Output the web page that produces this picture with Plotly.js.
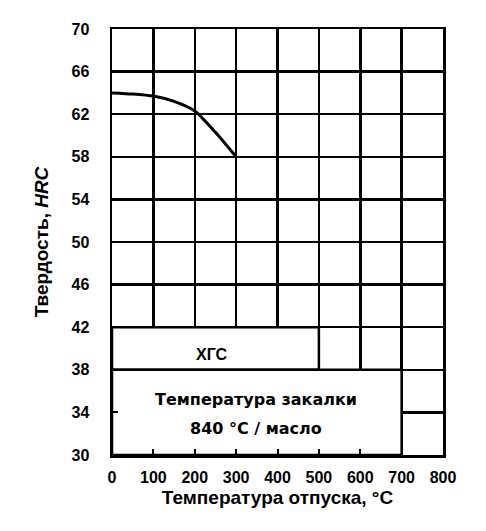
<!DOCTYPE html>
<html>
<head>
<meta charset="utf-8">
<script src="https://cdn.plot.ly/plotly-3.0.1.min.js"></script>
<style>html,body{margin:0;padding:0;background:#fff;}#chart{width:486px;height:531px;}</style>
</head>
<body>
<div id="chart"></div>
<script>
// Data
const temper = [0, 50, 100, 150, 200, 250, 300];
const hardness = [64.0, 63.9, 63.7, 63.2, 62.3, 60.3, 58.0];
const xTicks = [0, 100, 200, 300, 400, 500, 600, 700, 800];
const yTicks = [30, 34, 38, 42, 46, 50, 54, 58, 62, 66, 70];
const steelLabel = "ХГС";
const quenchLines = ["Температура закалки", "840 °С / масло"];
const xTitle = "Температура отпуска, °С";
const yTitle = "Твердость, <i>HRC</i>";

const F = "Liberation Sans, Arial, sans-serif";

const trace = {
  x: temper, y: hardness, type: "scatter", mode: "lines",
  line: {color: "#000", width: 3, shape: "spline", smoothing: 0.6},
  hoverinfo: "skip", showlegend: false
};

const axisCommon = {
  showgrid: true, gridcolor: "#000", gridwidth: 2.5,
  showline: true, linecolor: "#000", linewidth: 2.5, mirror: true,
  ticks: "inside", ticklen: 6, tickwidth: 2, tickcolor: "#000",
  zeroline: false,
  tickfont: {family: F, size: 16, color: "#000", weight: "bold"}
};

const layout = {
  width: 486, height: 531,
  margin: {l: 112, r: 43, t: 29, b: 76},
  paper_bgcolor: "#fff", plot_bgcolor: "#fff",
  xaxis: Object.assign({}, axisCommon, {
    range: [0, 800], tickvals: xTicks, ticktext: xTicks.map(String),
    ticklabelstandoff: 6,
    title: {text: xTitle, font: {family: F, size: 19, color: "#000", weight: "bold"}, standoff: 6}
  }),
  yaxis: Object.assign({}, axisCommon, {
    range: [30, 70], tickvals: yTicks, ticktext: yTicks.map(String),
    ticklabelstandoff: 17,
    title: {text: yTitle, font: {family: F, size: 19, color: "#000", weight: "bold"}, standoff: 18}
  }),
  shapes: [
    {type: "rect", xref: "x", yref: "y", x0: 0, x1: 500, y0: 38, y1: 42,
     fillcolor: "#fff", line: {color: "#000", width: 2.5}, layer: "between"},
    {type: "rect", xref: "x", yref: "y", x0: 0, x1: 700, y0: 30, y1: 38,
     fillcolor: "#fff", line: {color: "#000", width: 2.5}, layer: "between"}
  ],
  annotations: [
    {x: 242, y: 39.4, xref: "x", yref: "y", text: "<b>" + steelLabel + "</b>", showarrow: false,
     font: {family: F, size: 16, color: "#000"}},
    {x: 348, y: 35.2, xref: "x", yref: "y", text: "<b>" + quenchLines[0] + "</b>", showarrow: false,
     font: {family: "DejaVu Sans, sans-serif", size: 16, color: "#000"}},
    {x: 348, y: 32.5, xref: "x", yref: "y", text: "<b>" + quenchLines[1] + "</b>", showarrow: false,
     font: {family: "DejaVu Sans, sans-serif", size: 16, color: "#000"}}
  ]
};

Plotly.newPlot("chart", [trace], layout, {displayModeBar: false, staticPlot: true});
</script>
</body>
</html>
